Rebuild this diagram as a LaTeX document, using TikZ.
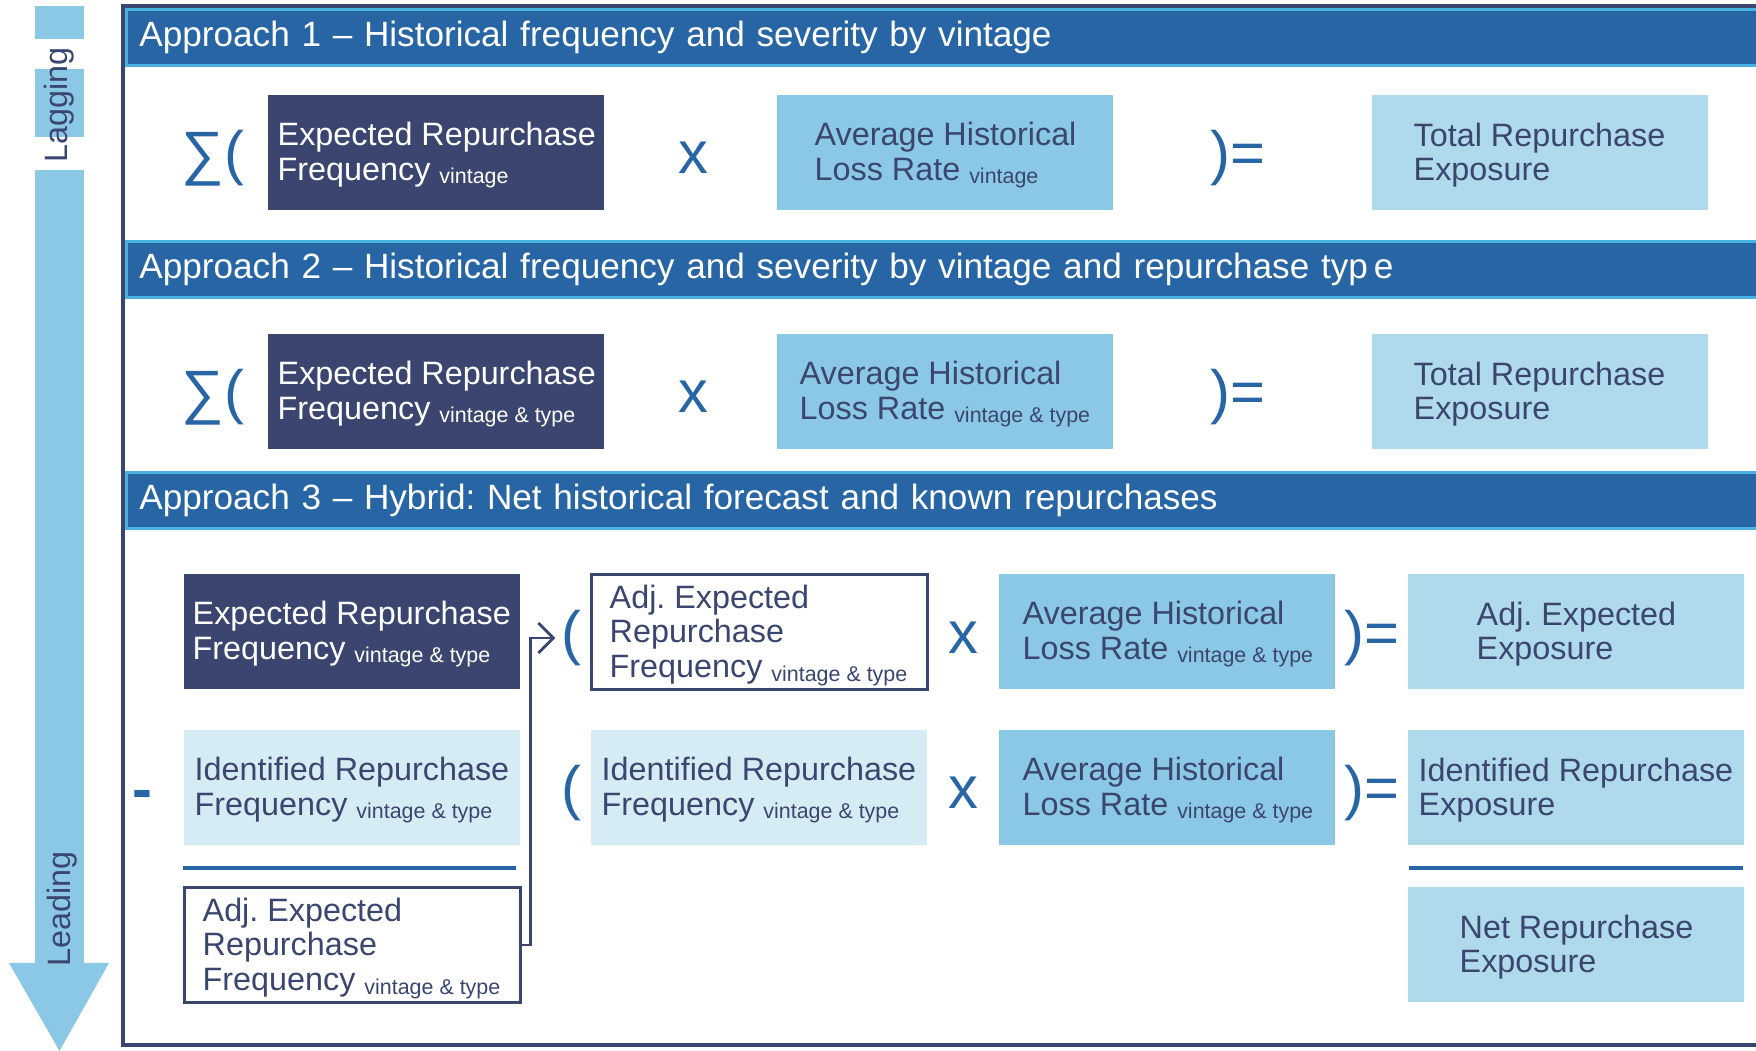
\documentclass[tikz,border=0pt]{standalone}
\usepackage{fontspec}
\setmainfont{Liberation Sans}
\usetikzlibrary{positioning,arrows.meta}
\definecolor{band}{HTML}{2765A5}
\definecolor{edge}{HTML}{4BB1DE}
\definecolor{ink} {HTML}{3B4670}
\definecolor{sky} {HTML}{8BC8E5}
\definecolor{pale}{HTML}{AFDAEB}
\definecolor{wash}{HTML}{D6ECF4}
\newcommand{\sbs}[1]{\raisebox{-1pt}{\fontsize{6.1}{7}\selectfont #1}}
\frenchspacing

\begin{document}
\begin{tikzpicture}[x=0.1mm,y=-0.1mm,
  hdr/.style={anchor=north west,fill=band,draw=edge,line width=0.8pt,
              minimum height=5.2mm,text width=161.4mm,inner xsep=1.3mm,
              align=left,text=white,font=\fontsize{10}{12}\selectfont},
  cell/.style={anchor=north west,minimum width=33.6mm,minimum height=11.5mm,
               inner sep=0pt},
  darkbox/.style={cell,fill=ink},
  skybox/.style={cell,fill=sky},
  palebox/.style={cell,fill=pale},
  washbox/.style={cell,fill=wash},
  adjbox/.style={cell,draw=ink,line width=0.9pt,fill=white},
  txt/.style={align=left,inner sep=0pt,text=ink,yshift=-0.3mm,
              font=\fontsize{9.2}{9.9}\selectfont},
  op/.style={text=band,inner sep=0.5mm,font=\fontsize{17}{19}\selectfont},
  side/.style={rotate=90,text=ink,font=\fontsize{9.2}{10}\selectfont},
  rule/.style={draw=band,line width=1pt},
  ar/.style={-{Straight Barb[length=1.5mm,width=3mm]},draw=ink,line width=0.8pt}]
  \useasboundingbox (0,0) rectangle (1756,1051);
  \clip (0,0) rectangle (1756,1051);

  % lagging -> leading arrow
  \fill[sky] (35,6) rectangle (84,39);
  \fill[sky] (35,69) rectangle (84,137);
  \fill[sky] (35,170) rectangle (84,963);
  \fill[sky] (9,963) -- (109,963) -- (59.5,1051) -- cycle;
  \node[side] (lag) at (59,105) {Lagging};
  \node[side] (lead) at (62,909) {Leading};

  \draw[ink,line width=0.9pt] (123,6) rectangle (1800,1045);

  % approach 1
  \node[hdr] (h1) at (125,8) {Approach 1 – Historical frequency and severity by vintage};
  \node[op] (sg1) at (213,158) {∑(};
  \node[darkbox] (ef1) at (267,94) {};
  \node[txt,text=white,right=1mm of ef1.west] (ef1t) {Expected Repurchase\\Frequency \sbs{vintage}};
  \node[op] (x1) at (693,158) {x};
  \node[skybox] (al1) at (776,94) {};
  \node[txt,right=3.8mm of al1.west] (al1t) {Average Historical\\Loss Rate \sbs{vintage}};
  \node[op] (eq1) at (1238,158) {)=};
  \node[palebox] (tr1) at (1371,94) {};
  \node[txt,right=4.2mm of tr1.west] (tr1t) {Total Repurchase\\Exposure};

  % approach 2
  \node[hdr] (h2) at (125,240) {Approach 2 – Historical frequency and severity by vintage and repurchase typ\,e};
  \node[op] (sg2) at (213,397) {∑(};
  \node[darkbox] (ef2) at (267,333) {};
  \node[txt,text=white,right=1mm of ef2.west] (ef2t) {Expected Repurchase\\Frequency \sbs{vintage \& type}};
  \node[op] (x2) at (693,397) {x};
  \node[skybox] (al2) at (776,333) {};
  \node[txt,right=2.3mm of al2.west] (al2t) {Average Historical\\Loss Rate \sbs{vintage \& type}};
  \node[op] (eq2) at (1238,397) {)=};
  \node[palebox] (tr2) at (1371,333) {};
  \node[txt,right=4.2mm of tr2.west] (tr2t) {Total Repurchase\\Exposure};

  % approach 3
  \node[hdr] (h3) at (125,471) {Approach 3 – Hybrid: Net historical forecast and known repurchases};
  \node[darkbox] (ef3) at (183,573) {};
  \node[txt,text=white,right=0.9mm of ef3.west] (ef3t) {Expected Repurchase\\Frequency \sbs{vintage \& type}};
  \node[op] (pa3) at (571,638) {(};
  \node[adjbox] (ae3) at (590,573) {};
  \node[txt,right=1.9mm of ae3.west] (ae3t) {Adj. Expected\\Repurchase\\Frequency \sbs{vintage \& type}};
  \node[op] (x3) at (963,638) {x};
  \node[skybox] (al3) at (998,573) {};
  \node[txt,right=2.4mm of al3.west] (al3t) {Average Historical\\Loss Rate \sbs{vintage \& type}};
  \node[op] (eq3) at (1372,638) {)=};
  \node[palebox] (ax3) at (1407,573) {};
  \node[txt,right=6.9mm of ax3.west] (ax3t) {Adj. Expected\\Exposure};

  \node[op,font=\fontsize{17}{19}\selectfont\bfseries] (mn) at (142,800) {-};
  \node[washbox] (id3) at (183,729) {};
  \node[txt,right=1.1mm of id3.west] (id3t) {Identified Repurchase\\Frequency \sbs{vintage \& type}};
  \node[op] (pb3) at (571,793) {(};
  \node[washbox] (ib3) at (590,729) {};
  \node[txt,right=1.1mm of ib3.west] (ib3t) {Identified Repurchase\\Frequency \sbs{vintage \& type}};
  \node[op] (x4) at (963,793) {x};
  \node[skybox] (al4) at (998,729) {};
  \node[txt,right=2.4mm of al4.west] (al4t) {Average Historical\\Loss Rate \sbs{vintage \& type}};
  \node[op] (eq4) at (1372,793) {)=};
  \node[palebox] (ix3) at (1407,729) {};
  \node[txt,right=1.1mm of ix3.west] (ix3t) {Identified Repurchase\\Exposure};

  \draw[rule] (183,868) -- (516,868);
  \draw[rule] (1409,868) -- (1743,868);
  \node[adjbox] (ac3) at (183,886) {};
  \node[txt,right=1.9mm of ac3.west] (ac3t) {Adj. Expected\\Repurchase\\Frequency \sbs{vintage \& type}};
  \node[palebox] (nt3) at (1407,886) {};
  \node[txt,right=5.2mm of nt3.west] (nt3t) {Net Repurchase\\Exposure};
  \draw[ar] (ac3.east) -- ++(8.5,0) |- (pa3.west);
\end{tikzpicture}
\end{document}
